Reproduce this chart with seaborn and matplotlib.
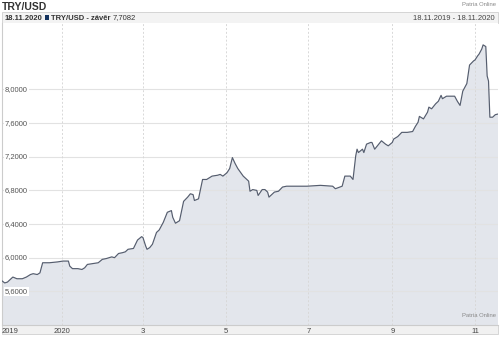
import matplotlib
matplotlib.use("Agg")
import matplotlib.pyplot as plt
import matplotlib.patches as mpatches
import seaborn as sns
import pandas as pd
import numpy as np

dates = [
    "2019-11-18", "2019-11-20", "2019-11-22", "2019-11-26", "2019-11-29", "2019-12-03",
    "2019-12-06", "2019-12-09", "2019-12-11", "2019-12-14", "2019-12-16", "2019-12-18",
    "2019-12-20", "2019-12-23", "2019-12-29", "2020-01-02", "2020-01-06", "2020-01-07",
    "2020-01-09", "2020-01-13", "2020-01-16", "2020-01-18", "2020-01-20", "2020-01-24",
    "2020-01-28", "2020-01-31", "2020-02-03", "2020-02-07", "2020-02-09", "2020-02-12",
    "2020-02-15", "2020-02-17", "2020-02-19", "2020-02-23", "2020-02-26", "2020-02-29",
    "2020-03-01", "2020-03-03", "2020-03-04", "2020-03-06", "2020-03-08", "2020-03-11",
    "2020-03-13", "2020-03-16", "2020-03-19", "2020-03-22", "2020-03-23", "2020-03-25",
    "2020-03-28", "2020-03-31", "2020-04-03", "2020-04-05", "2020-04-07", "2020-04-08",
    "2020-04-11", "2020-04-14", "2020-04-17", "2020-04-21", "2020-04-25", "2020-04-27",
    "2020-04-29", "2020-05-02", "2020-05-04", "2020-05-06", "2020-05-08", "2020-05-10",
    "2020-05-14", "2020-05-18", "2020-05-19", "2020-05-21", "2020-05-24", "2020-05-25",
    "2020-05-28", "2020-05-30", "2020-06-01", "2020-06-02", "2020-06-04", "2020-06-06",
    "2020-06-09", "2020-06-12", "2020-06-15", "2020-06-19", "2020-06-30", "2020-07-10",
    "2020-07-19", "2020-07-21", "2020-07-26", "2020-07-28", "2020-08-01", "2020-08-03",
    "2020-08-05", "2020-08-06", "2020-08-07", "2020-08-10", "2020-08-11", "2020-08-13",
    "2020-08-16", "2020-08-17", "2020-08-19", "2020-08-21", "2020-08-24", "2020-08-27",
    "2020-08-29", "2020-09-01", "2020-09-02", "2020-09-05", "2020-09-08", "2020-09-12",
    "2020-09-16", "2020-09-18", "2020-09-20", "2020-09-21", "2020-09-24", "2020-09-27",
    "2020-09-28", "2020-09-30", "2020-10-03", "2020-10-05", "2020-10-07", "2020-10-08",
    "2020-10-11", "2020-10-15", "2020-10-17", "2020-10-19", "2020-10-21", "2020-10-23",
    "2020-10-26", "2020-10-28", "2020-10-31", "2020-11-01", "2020-11-03", "2020-11-04",
    "2020-11-06", "2020-11-07", "2020-11-09", "2020-11-10", "2020-11-11", "2020-11-12",
    "2020-11-14", "2020-11-16", "2020-11-18",
]
values = [
    5.725, 5.70, 5.71, 5.77, 5.75, 5.75,
    5.77, 5.80, 5.81, 5.80, 5.82, 5.94,
    5.94, 5.94, 5.95, 5.96, 5.96, 5.90,
    5.87, 5.87, 5.86, 5.88, 5.92, 5.93,
    5.94, 5.98, 5.99, 6.01, 6.00, 6.05,
    6.06, 6.07, 6.10, 6.11, 6.21, 6.25,
    6.24, 6.14, 6.10, 6.12, 6.16, 6.30,
    6.33, 6.42, 6.54, 6.56, 6.48, 6.41,
    6.44, 6.67, 6.72, 6.76, 6.75, 6.68,
    6.70, 6.93, 6.93, 6.97, 6.98, 6.99,
    6.97, 7.01, 7.06, 7.19, 7.12, 7.06,
    6.97, 6.91, 6.79, 6.81, 6.80, 6.74,
    6.81, 6.81, 6.78, 6.72, 6.75, 6.78,
    6.79, 6.84, 6.85, 6.85, 6.85, 6.86,
    6.85, 6.82, 6.85, 6.97, 6.97, 6.93,
    7.21, 7.29, 7.25, 7.29, 7.25, 7.35,
    7.37, 7.37, 7.29, 7.33, 7.39, 7.35,
    7.33, 7.37, 7.41, 7.44, 7.49, 7.49,
    7.50, 7.56, 7.61, 7.68, 7.65, 7.73,
    7.79, 7.77, 7.83, 7.86, 7.93, 7.89,
    7.92, 7.92, 7.92, 7.86, 7.81, 7.98,
    8.07, 8.29, 8.34, 8.35, 8.40, 8.42,
    8.48, 8.53, 8.51, 8.16, 8.10, 7.67,
    7.67, 7.70, 7.7082,
]
y_ticks = [5.6, 6.0, 6.4, 6.8, 7.2, 7.6, 8.0]
y_tick_labels = ["5,6000", "6,0000", "6,4000", "6,8000", "7,2000", "7,6000", "8,0000"]
x_tick_dates = ["2019-11-18", "2020-01-01", "2020-03-01", "2020-05-01", "2020-07-01", "2020-09-01", "2020-11-01"]
x_tick_labels = ["2019", "2020", "3", "5", "7", "9", "11"]

df = pd.DataFrame({"date": pd.to_datetime(dates), "value": values})

sns.set_style("white")
plt.rcParams["font.family"] = ["Liberation Sans", "DejaVu Sans"]

W, H = 500, 338
fig = plt.figure(figsize=(W / 100, H / 100), dpi=100)
fig.patch.set_facecolor("white")

def fx(px):
    return px / W

def fy(py):
    return 1 - py / H

ax = fig.add_axes([fx(2), fy(325), fx(498) - fx(2), fy(23) - fy(325)])
ax.set_facecolor("white")
ax.set_zorder(1)

line_color = "#555d6e"
fill_color = "#e3e6ec"

ax.fill_between(df["date"], df["value"], 0, color=fill_color, lw=0, zorder=1)
sns.lineplot(data=df, x="date", y="value", ax=ax, color=line_color, lw=0.85, zorder=3)

ax.set_xlim(pd.Timestamp("2019-11-18"), pd.Timestamp("2020-11-18"))
ax.set_ylim(5.2, 8.79)

for v in y_ticks:
    ax.axhline(v, color="#e2e2e2", lw=0.8, zorder=2)
for d in x_tick_dates[1:]:
    ax.axvline(pd.Timestamp(d), color="#d8d8d8", lw=0.7, ls=(0, (2, 2)), zorder=2)

ax.set_yticks([])
for v, lab in zip(y_ticks, y_tick_labels):
    ax.text(0.006, v, lab, transform=ax.get_yaxis_transform(), ha="left", va="center",
            fontsize=5.5, color="#555555", zorder=4,
            bbox=dict(boxstyle="square,pad=0.15", fc="white", ec="none"))

ax.set_xticks(pd.to_datetime(x_tick_dates))
ax.set_xticklabels(x_tick_labels, fontsize=5.5, color="#444444")
ax.tick_params(axis="x", length=0, pad=2.2, bottom=False)
lbls = ax.get_xticklabels()
lbls[0].set_ha("left")
ax.set_xlabel("")
ax.set_ylabel("")

for s in ["top", "right"]:
    ax.spines[s].set_visible(False)
ax.spines["left"].set_color("#cccccc")
ax.spines["left"].set_linewidth(0.8)
ax.spines["bottom"].set_color("#cccccc")
ax.spines["bottom"].set_linewidth(0.8)

# bottom axis bar
fig.patches.append(mpatches.Rectangle((fx(2), fy(334)), fx(496), fy(325) - fy(334),
                                      transform=fig.transFigure, fc="#f1f1f1", ec="#d0d0d0",
                                      lw=0.6, zorder=-1))
# header bar
fig.patches.append(mpatches.Rectangle((fx(2), fy(23)), fx(496), fy(12) - fy(23),
                                      transform=fig.transFigure, fc="#f3f3f3", ec="#cfcfcf",
                                      lw=0.6, zorder=-1))

fig.text(fx(2), fy(6.5), "TRY/USD", fontsize=7.5, fontweight="bold", color="#333333",
         ha="left", va="center")
fig.text(fx(496), fy(5), "Patria Online", fontsize=4.2, color="#888888", ha="right", va="center")

t1 = fig.text(fx(5), fy(17.5), "18.11.2020", fontsize=5.5, fontweight="bold", color="#333333",
              ha="left", va="baseline")
sq = fig.text(0, 0, "", fontsize=5.5)
t2 = fig.text(fx(48), fy(17.5), "TRY/USD - závěr", fontsize=5.5, fontweight="bold",
              color="#333333", ha="left", va="baseline")
fig.canvas.draw()
r = fig.canvas.get_renderer()
bb1 = t1.get_window_extent(r)
sq_x0 = bb1.x1 + 2
fig.patches.append(mpatches.Rectangle((sq_x0 / W, fy(20)), fx(4.5), fy(15.5) - fy(20),
                                      transform=fig.transFigure, fc="#13325e", ec="none", zorder=2))
t2.set_x((sq_x0 + 6.5) / W)
fig.canvas.draw()
bb2 = t2.get_window_extent(r)
fig.text((bb2.x1 + 2) / W, fy(17.5), "7,7082", fontsize=5.5, color="#333333",
         ha="left", va="baseline")
t1.set_y(fy(19.5)); t2.set_y(fy(19.5))
fig.texts[-1].set_y(fy(19.5))
fig.text(fx(495), fy(19.5), "18.11.2019 - 18.11.2020", fontsize=5.5, color="#444444",
         ha="right", va="baseline")
ax.text(0.995, 0.03, "Patria Online", transform=ax.transAxes, fontsize=4.2, color="#888888",
        ha="right", va="center", zorder=5)

fig.savefig("out.png", dpi=100, facecolor="white")
